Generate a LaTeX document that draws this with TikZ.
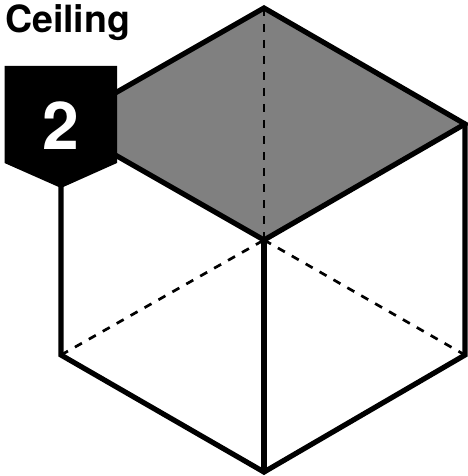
\documentclass[tikz,border=0pt]{standalone}
\usepackage{fontspec}
\setmainfont{TeX Gyre Heros}
\definecolor{ceil}{gray}{0.5}
\tikzset{edge/.style={line width=5.2pt,line join=miter,line cap=round},hid/.style={line width=2.7pt,dash pattern=on 8pt off 8pt}}
\begin{document}
\begin{tikzpicture}[x=1pt,y=-1pt]
\useasboundingbox (0,0) rectangle (467,476);
\fill[white] (0,0) rectangle (467,476);
\coordinate (T) at (264,8);
\coordinate (R) at (465,124);
\coordinate (C) at (264,240);
\coordinate (L) at (61,124);
\coordinate (LB) at (61,355);
\coordinate (RB) at (465,355);
\coordinate (B) at (264,472);
\fill[ceil] (T)--(R)--(C)--(L)--cycle;
\draw[hid] (T)--(C);
\draw[hid] (LB)--(C);
\draw[hid] (C)--(RB);
\draw[edge] (T)--(R)--(C)--(L)--cycle;
\draw[edge] (C)--(B);
\draw[edge] (L)--(LB)--(B)--(RB)--(R);
\fill[black] (4.5,66)--(117,66)--(117,163)--(61,188)--(4.5,163)--cycle;
\node[text=white,font=\bfseries\fontsize{66}{66}\selectfont,anchor=base,inner sep=0pt] (num) at (60.5,149.5) {2};
\node[font=\bfseries\fontsize{37.5}{37.5}\selectfont,anchor=base west,inner sep=0pt] (title) at (5,32.5) {Ceiling};
\end{tikzpicture}
\end{document}
